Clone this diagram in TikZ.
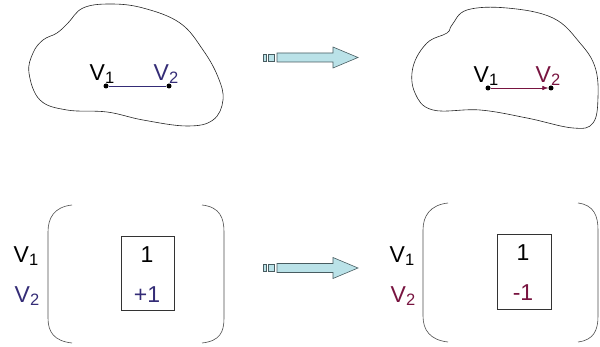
\documentclass[tikz,border=0pt]{standalone}
\usepackage{fontspec}
\setmainfont{Liberation Sans}
\usepackage{xcolor}
\usetikzlibrary{arrows.meta, positioning}
\definecolor{inkblue}{RGB}{52, 44, 118}
\definecolor{inkred}{RGB}{120, 20, 64}
\definecolor{arrowfill}{RGB}{186, 226, 232}
\definecolor{arrowline}{RGB}{72, 92, 96}
\tikzset{
    blob/.style  ={draw=black!85, line width=0.6pt},
    vtx/.style   ={circle, fill=black, inner sep=0pt, minimum size=5pt},
    vlbl/.style  ={font=\fontsize{23}{25}\selectfont, inner sep=0pt},
    entry/.style ={font=\fontsize{23}{25}\selectfont, inner sep=0pt},
    cell/.style  ={draw=black!80, line width=0.6pt},
    paren/.style ={draw=black!70, line width=0.6pt},
    ed/.style    ={line width=0.6pt},
    fat/.style   ={draw=arrowline, fill=arrowfill, line width=0.6pt}
}
\newcommand{\vname}[1]{V\raisebox{-3.5pt}{\fontsize{16.5}{16}\selectfont #1}}
% hollow arrow with two small blocks at its tail
\newcommand{\fatarrow}[1]{%
  \begin{scope}[shift={#1}]
    \draw[fat] (0,-3.5) rectangle (3,3.5);
    \draw[fat] (5,-3.5) rectangle (11,3.5);
    \draw[fat] (14,-4.5) -- (70,-4.5) -- (70,-10.5) -- (95,0)
               -- (70,10.5) -- (70,4.5) -- (14,4.5) -- cycle;
  \end{scope}}

\begin{document}
\begin{tikzpicture}[x=1pt, y=-1pt]
  \useasboundingbox (0,0) rectangle (600,347);

  % left graph
  \draw[blob] plot[smooth cycle, tension=0.65] coordinates {
    (57,33) (68,23) (83,8) (110,4) (143,8) (180,23) (203,50) (218,77)
    (223,100) (213,120) (187,126) (143,120) (107,112) (67,110) (40,100)
    (29,73) (33,53) (43,40)};
  \node[vtx] (a1) at (106,86) {};
  \node[vtx] (a2) at (169,86) {};
  \node[vlbl] (la1) at (102,74) {\vname{1}};
  \node[vlbl, text=inkblue] (la2) at (166,74) {\vname{2}};
  \draw[ed, inkblue] (a1) -- (a2);

  \fatarrow{(263,57.5)}

  % right graph
  \draw[blob] plot[smooth cycle, tension=0.65] coordinates {
    (452,25) (467,10) (507,8) (553,18) (580,43) (595,67) (598,97)
    (593,123) (573,128) (527,118) (480,110) (433,110) (415,93) (413,67)
    (427,43) (447,33)};
  \node[vtx] (b1) at (488,88) {};
  \node[vtx] (b2) at (551,88) {};
  \node[vlbl] (lb1) at (486,76) {\vname{1}};
  \node[vlbl, text=inkred] (lb2) at (548,76) {\vname{2}};
  \draw[ed, inkred, -{Latex[length=6pt, width=4.5pt]}] (b1) -- (b2);

  % left matrix
  \node[vlbl] (ra1) at (26,256) {\vname{1}};
  \node[vlbl, text=inkblue] (ra2) at (27,296) {\vname{2}};
  \draw[paren] (72,205) .. controls (54,207) and (48,218) .. (48,232)
               -- (48,318) .. controls (48,332) and (54,341) .. (72,343);
  \draw[paren] (202,205) .. controls (220,207) and (224,218) .. (224,232)
               -- (224,318) .. controls (224,332) and (220,341) .. (202,343);
  \node[cell, minimum width=53pt, minimum height=74pt] (ca) at (147.5,273) {};
  \node[entry] (ea1) at (147,255) {1};
  \node[entry, text=inkblue] (ea2) at (147,295) {+1};

  \fatarrow{(263,268)}

  % right matrix
  \node[vlbl] (rb1) at (402,256) {\vname{1}};
  \node[vlbl, text=inkred] (rb2) at (403,296) {\vname{2}};
  \draw[paren] (448,203) .. controls (430,205) and (423,216) .. (423,230)
               -- (423,316) .. controls (423,330) and (430,340) .. (448,342);
  \draw[paren] (578,203) .. controls (594,205) and (598,216) .. (598,230)
               -- (598,316) .. controls (598,330) and (594,340) .. (578,342);
  \node[cell, minimum width=54pt, minimum height=75pt] (cb) at (524,271.5) {};
  \node[entry] (eb1) at (523,253) {1};
  \node[entry, text=inkred] (eb2) at (523,293) {-1};
\end{tikzpicture}
\end{document}
